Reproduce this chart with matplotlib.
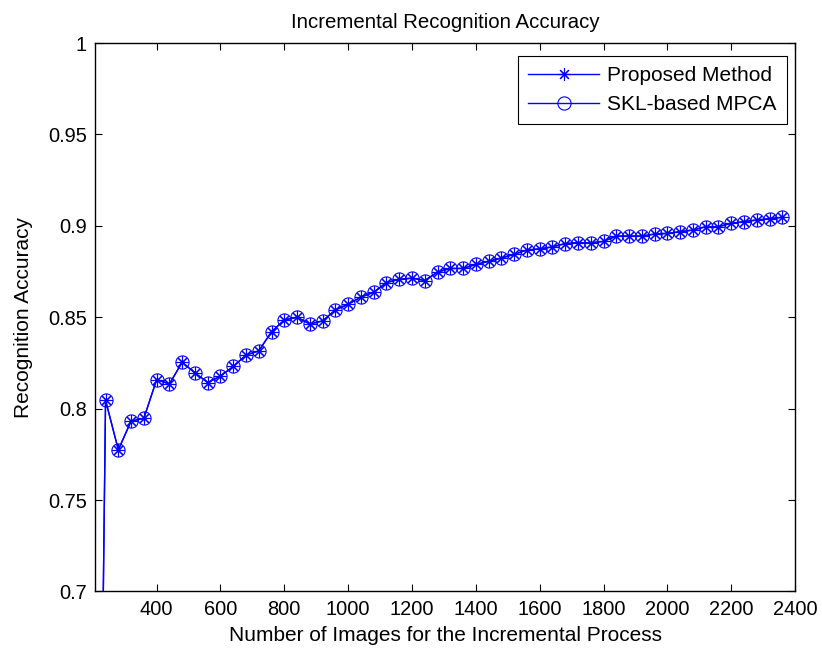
import matplotlib
matplotlib.use("Agg")
import matplotlib.pyplot as plt
from matplotlib.ticker import FormatStrFormatter

plt.rcParams['font.family'] = ['Liberation Sans', 'DejaVu Sans']

# number of images processed so far (first entry is the start-up sample)
images = [200, 240, 280, 320, 360, 400, 440, 480, 520, 560, 600, 640, 680, 720,
          760, 800, 840, 880, 920, 960, 1000, 1040, 1080, 1120, 1160, 1200,
          1240, 1280, 1320, 1360, 1400, 1440, 1480, 1520, 1560, 1600, 1640,
          1680, 1720, 1760, 1800, 1840, 1880, 1920, 1960, 2000, 2040, 2080,
          2120, 2160, 2200, 2240, 2280, 2320, 2360]

accuracy = [0.210, 0.8046, 0.7775, 0.7932, 0.7947, 0.8159, 0.8135, 0.8254,
            0.8196, 0.8143, 0.8178, 0.8231, 0.8293, 0.8316, 0.8421, 0.8485,
            0.8500, 0.8463, 0.8480, 0.8540, 0.8571, 0.8610, 0.8637, 0.8690,
            0.8707, 0.8714, 0.8701, 0.8747, 0.8767, 0.8767, 0.8789, 0.8806,
            0.8824, 0.8844, 0.8868, 0.8874, 0.8885, 0.8903, 0.8908, 0.8907,
            0.8915, 0.8944, 0.8944, 0.8944, 0.8955, 0.8959, 0.8968, 0.8977,
            0.8995, 0.8995, 0.9014, 0.9023, 0.9032, 0.9039, 0.9047]

proposed = accuracy
skl_mpca = accuracy

x_ticks = [400, 600, 800, 1000, 1200, 1400, 1600, 1800, 2000, 2200, 2400]
y_ticks = [0.7, 0.75, 0.8, 0.85, 0.9, 0.95, 1.0]

fig = plt.figure(figsize=(8.22, 6.49), dpi=100)
ax = fig.add_axes([0.1156, 0.0886, 0.9672 - 0.1156, 0.9337 - 0.0886])

blue = (0, 0, 1)
ax.plot(images, proposed, color=blue, lw=1.0, marker=(8, 2, 0),
        markersize=9, markeredgewidth=0.8, label='Proposed Method')
ax.plot(images, skl_mpca, color=blue, lw=1.0, marker='o',
        markersize=9.5, markerfacecolor='none', markeredgewidth=0.8,
        label='SKL-based MPCA')

ax.set_xlim(207, 2400)
ax.set_ylim(0.7, 1.0)
ax.set_xticks(x_ticks)
ax.set_yticks(y_ticks)
ax.yaxis.set_major_formatter(FormatStrFormatter('%g'))

ax.tick_params(direction='in', top=True, right=True, length=5, width=0.8,
               labelsize=14.4, pad=6, colors='black')
for s in ax.spines.values():
    s.set_linewidth(1.0)
    s.set_color('black')

ax.set_title('Incremental Recognition Accuracy', fontsize=14.7, pad=11)
ax.set_xlabel('Number of Images for the Incremental Process', fontsize=15,
              labelpad=5)
ax.set_ylabel('Recognition Accuracy', fontsize=15, labelpad=11)

leg = ax.legend(loc='upper right', bbox_to_anchor=(0.9886, 0.9763),
                borderaxespad=0, fontsize=15, numpoints=1, fancybox=False,
                framealpha=1, edgecolor='black', handlelength=3.4,
                borderpad=0.5, labelspacing=0.45, handletextpad=0.4)
leg.get_frame().set_linewidth(0.8)

fig.savefig('out.png', dpi=100)
